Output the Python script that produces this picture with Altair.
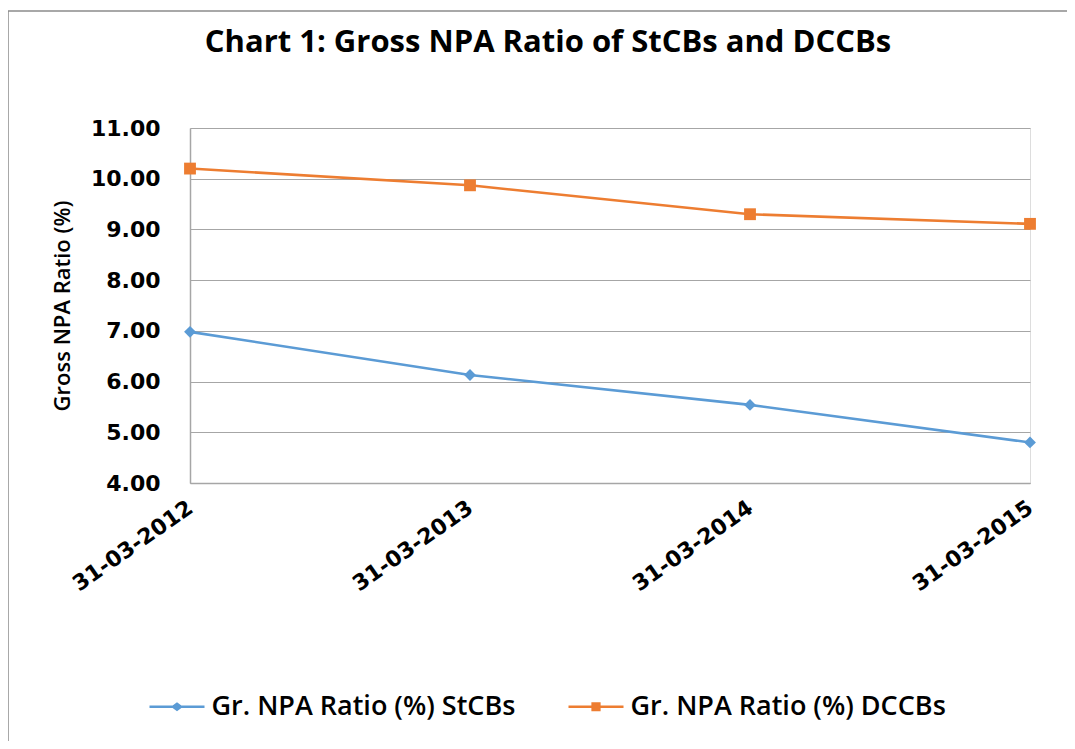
import altair as alt
import pandas as pd

dates = ["31-03-2012", "31-03-2013", "31-03-2014", "31-03-2015"]
stcbs = [6.98, 6.13, 5.54, 4.80]
dccbs = [10.20, 9.87, 9.30, 9.11]
series_names = ["Gr. NPA Ratio (%) StCBs", "Gr. NPA Ratio (%) DCCBs"]
colors = ["#5B9BD5", "#ED7D31"]
y_ticks = [4, 5, 6, 7, 8, 9, 10, 11]

rows = []
for d, v in zip(dates, stcbs):
    rows.append({"date": d, "value": v, "series": series_names[0]})
for d, v in zip(dates, dccbs):
    rows.append({"date": d, "value": v, "series": series_names[1]})
df = pd.DataFrame(rows)

W, H = 840, 355
PL, PT = 182, 120

x_enc = alt.X("date:O", sort=dates, scale=alt.Scale(padding=0),
              axis=alt.Axis(title=None, labelAngle=-35, labelAlign="right", labelBaseline="middle",
                            labelFont="DejaVu Sans", labelFontWeight="bold", labelFontSize=22,
                            labelColor="#000000", labelPadding=22, ticks=False,
                            domainColor="#a6a6a6", domainWidth=1.5, grid=False))
y_enc = alt.Y("value:Q", scale=alt.Scale(domain=[4, 11], nice=False, zero=False),
              axis=alt.Axis(title="Gross NPA Ratio (%)", values=y_ticks, format=".2f",
                            labelFont="DejaVu Sans", labelFontWeight="bold", labelFontSize=22,
                            labelColor="#000000", labelPadding=30, ticks=False,
                            domainColor="#a6a6a6", domainWidth=1.5,
                            gridColor="#a6a6a6", gridWidth=1.2,
                            titleFont="Open Sans", titleFontSize=22, titleFontWeight=600,
                            titleColor="#000000", titlePadding=16))

base = alt.Chart(df)

layers = []
for name, col, shp, sz in zip(series_names, colors, ["diamond", "square"], [140, 140]):
    sub = base.transform_filter(alt.datum.series == name)
    layers.append(sub.mark_line(strokeWidth=2.6, color=col).encode(x=x_enc, y=y_enc))
    layers.append(sub.mark_point(shape=shp, filled=True, size=sz, opacity=1, color=col).encode(x=x_enc, y=y_enc))

diamond_path = "M-2.5,-0.12 L2.5,-0.12 L2.5,0.12 L-2.5,0.12 Z M0,-0.42 L0.55,0 L0,0.42 L-0.55,0 Z"
square_path = "M-2.5,-0.12 L2.5,-0.12 L2.5,0.12 L-2.5,0.12 Z M-0.42,-0.42 L0.42,-0.42 L0.42,0.42 L-0.42,0.42 Z"

leg = alt.Legend(title=None, orient="none", direction="horizontal", columns=2,
                 legendX=-26.5, legendY=565, symbolSize=484, symbolStrokeWidth=0,
                 symbolOpacity=1, labelOffset=21, columnPadding=53,
                 labelFont="Open Sans", labelFontSize=27, labelFontWeight=600,
                 labelColor="#000000", labelLimit=600)

legend_layer = base.mark_point(filled=True, opacity=0).encode(
    x=x_enc, y=y_enc,
    color=alt.Color("series:N", scale=alt.Scale(domain=series_names, range=colors), legend=leg),
    shape=alt.Shape("series:N", scale=alt.Scale(domain=series_names, range=[diamond_path, square_path]),
                    legend=leg),
)

frame = alt.Chart(pd.DataFrame({"a": [0]})).mark_rect(
    fillOpacity=0, stroke="#8c8c8c", strokeWidth=1.5
).encode(
    x=alt.value(8 - 190), x2=alt.value(1100 - 190),
    y=alt.value(11 - 128), y2=alt.value(745 - 128),
)

chart = alt.layer(frame, *layers, legend_layer).properties(
    width=W, height=H,
    title=alt.TitleParams("Chart 1: Gross NPA Ratio of StCBs and DCCBs", font="Open Sans",
                          fontSize=31, fontWeight="bold", color="#000000",
                          anchor="middle", frame="group", dx=-62, offset=-49),
    autosize=alt.AutoSizeParams(type="none"),
    padding={"left": PL, "top": PT, "right": 1075 - 16 - PL - W, "bottom": 749 - 16 - PT - H},
).configure_view(stroke=None).configure(background="#ffffff")

chart.save("out.html", embed_options={"renderer": "svg", "actions": False})
